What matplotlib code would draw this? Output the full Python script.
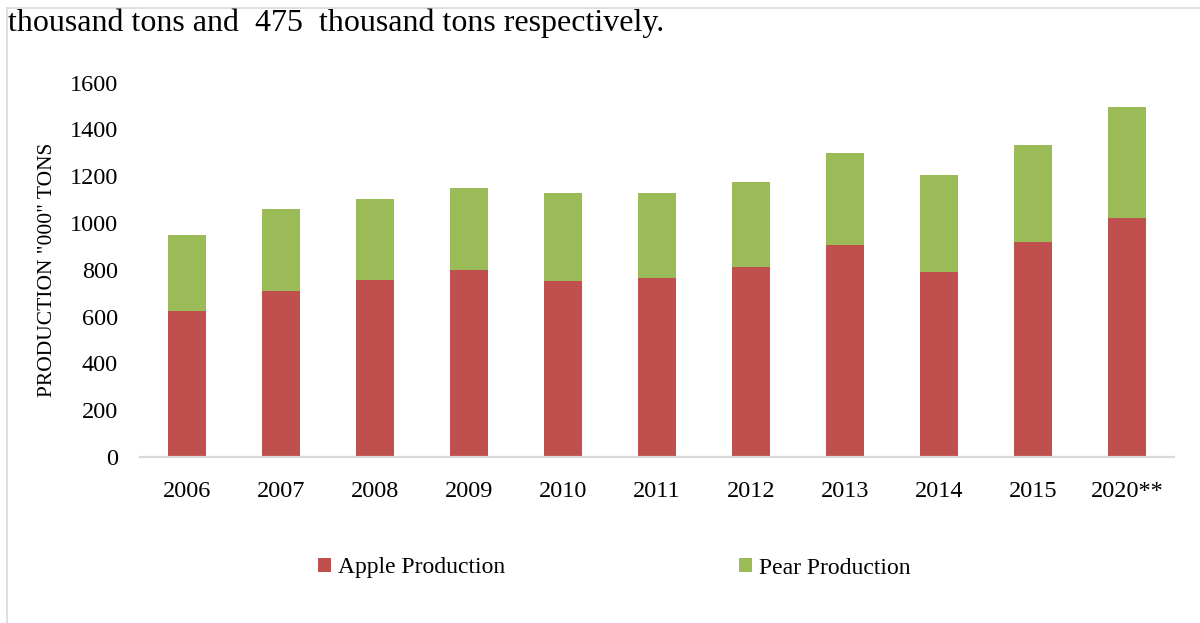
import matplotlib
matplotlib.use("Agg")
import matplotlib.pyplot as plt
from matplotlib.lines import Line2D
from matplotlib.patches import Patch

plt.rcParams['font.family'] = ['Liberation Serif', 'DejaVu Serif']

years = ["2006", "2007", "2008", "2009", "2010", "2011", "2012", "2013", "2014", "2015", "2020**"]
apple = [624, 710, 757, 800, 753, 766, 813, 907, 791, 920, 1020]
pear = [326, 351, 347, 351, 377, 364, 364, 394, 416, 415, 475]
yticks = [0, 200, 400, 600, 800, 1000, 1200, 1400, 1600]

apple_color = "#C0504D"
pear_color = "#9BBB59"

fig = plt.figure(figsize=(12, 6.23), dpi=100)
ax = fig.add_axes([140/1200, (623-457)/623, (1174-140)/1200, (457-82.7)/623])

x = list(range(len(years)))
ax.bar(x, apple, width=0.40, color=apple_color, label="Apple Production", zorder=2)
ax.bar(x, pear, width=0.40, bottom=apple, color=pear_color, label="Pear Production", zorder=2)

ax.set_xlim(-0.5, len(years) - 0.5)
ax.set_ylim(0, 1600)
ax.set_yticks(yticks)
ax.set_yticklabels([str(v) for v in yticks])
ax.set_xticks(x)
ax.set_xticklabels(years)
ax.tick_params(axis='both', length=0, labelsize=17.5)
ax.tick_params(axis='y', pad=16)
ax.tick_params(axis='x', pad=17)
for s in ['top', 'right', 'left']:
    ax.spines[s].set_visible(False)
ax.spines['bottom'].set_color('#d9d9d9')
ax.spines['bottom'].set_linewidth(1.6)
ax.spines['bottom'].set_zorder(3)

ax.set_ylabel('PRODUCTION "000" TONS', fontsize=15.5)
ax.yaxis.set_label_coords(-(140-57)/1034, 0.5)

handles = [Patch(facecolor=apple_color, label="Apple Production"),
           Patch(facecolor=pear_color, label="Pear Production")]
fig.legend(handles=handles, loc='center', bbox_to_anchor=(614/1200, 1 - 568/623),
           ncol=2, frameon=False, fontsize=17, handlelength=0.55, handleheight=0.55,
           handletextpad=0.3, columnspacing=9.9)

# page frame lines
fig.add_artist(Line2D([7/1200, 1], [1 - 8/623, 1 - 8/623], transform=fig.transFigure,
                      color='#d9d9d9', lw=1.2))
fig.add_artist(Line2D([7/1200, 7/1200], [0, 1 - 8/623], transform=fig.transFigure,
                      color='#d9d9d9', lw=1.2))

fig.text(8/1200, 1 - 31/623, "thousand tons and  475  thousand tons respectively.",
         fontsize=23, ha='left', va='baseline')

fig.savefig("out.png", dpi=100, facecolor='white')
